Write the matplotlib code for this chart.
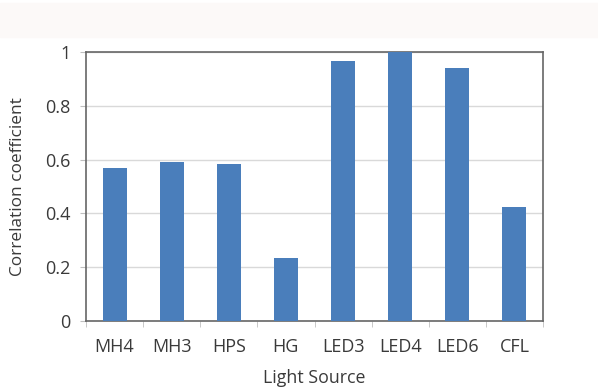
import numpy as np
import matplotlib.pyplot as plt

plt.rcParams['font.family'] = ['Open Sans', 'DejaVu Sans']

sources = ['MH4', 'MH3', 'HPS', 'HG', 'LED3', 'LED4', 'LED6', 'CFL']
corr = [0.57, 0.59, 0.585, 0.235, 0.965, 1.0, 0.94, 0.425]

fig = plt.figure(figsize=(5.98, 3.9), dpi=100)
# faint band at the top of the page
fig.patches.append(plt.Rectangle((0, 1 - 37/390), 1, 34/390, transform=fig.transFigure,
                                 color='#fcf9f8', zorder=0))
ax = fig.add_axes([86/598, 1 - 321/390, 457/598, 269/390])

x = np.arange(len(sources))
ax.bar(x, corr, width=0.42, color='#4a7ebb', zorder=3)

ax.set_xlim(-0.5, len(sources) - 0.5)
ax.set_ylim(0, 1)
ax.set_yticks(np.arange(0, 1.01, 0.2))
ax.set_yticklabels(['0', '0.2', '0.4', '0.6', '0.8', '1'])
ax.yaxis.grid(True, color='#d9d9d9', linewidth=1, zorder=0)

ax.set_xticks(x)
ax.set_xticklabels(sources)
ax.set_xticks(np.arange(-0.5, len(sources)), minor=True)
ax.tick_params(axis='x', which='major', length=0, pad=12.5, labelsize=13, colors='#3a3a3a')
ax.tick_params(axis='x', which='minor', length=4, color='#bfbfbf')
ax.tick_params(axis='y', length=4.5, color='#bfbfbf', labelsize=13, labelcolor='#3a3a3a', pad=6.5)

for s in ax.spines.values():
    s.set_color('#666666')
    s.set_linewidth(1.2)

ax.set_xlabel('Light Source', fontsize=12.8, color='#3a3a3a', labelpad=9)
ax.set_ylabel('Correlation coefficient', fontsize=12.4, color='#3a3a3a', labelpad=14)

plt.savefig('out.png', dpi=100)
